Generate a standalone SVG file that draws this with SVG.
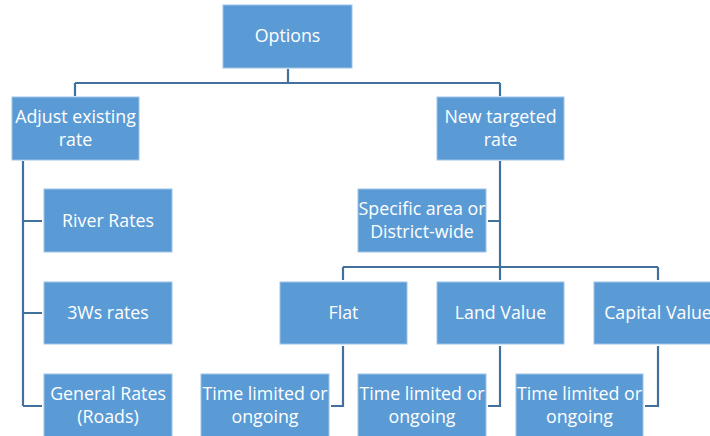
<svg xmlns="http://www.w3.org/2000/svg" width="710" height="436" viewBox="0 0 710 436">
<style>
.box{fill:#5B9BD5;stroke:#9DC3E6;stroke-width:1}
.t{font-family:"Open Sans","Liberation Sans",sans-serif;font-size:17.8px;fill:#fff;text-anchor:middle}
.c{fill:none;stroke:#41719C;stroke-width:2.2}
</style>
<rect width="710" height="436" fill="#fff"/>
<g id="connectors">
<path class="c" d="M288,69 V83 M75,83 H500 M75,83 V96 M500,83 V96"/>
<path class="c" d="M23,161 V406 M23,221 H42 M23,313 H42 M23,406 H42"/>
<path class="c" d="M500,161 V280 M500,221 H488 M343,267 H658 M343,267 V280 M658,267 V280"/>
<path class="c" d="M343,346 V406 H331 M500,346 V406 H488 M658,346 V406 H645"/>
</g>
<g id="options"><rect class="box" x="223" y="5" width="129" height="63"/><text class="t" x="287.5" y="42">Options</text></g>
<g id="adjust"><rect class="box" x="12" y="97" width="127" height="63"/><text class="t" x="75.5" y="123">Adjust existing</text><text class="t" x="75.5" y="146">rate</text></g>
<g id="new"><rect class="box" x="437" y="97" width="127" height="63"/><text class="t" x="500.5" y="123">New targeted</text><text class="t" x="500.5" y="146">rate</text></g>
<g id="river"><rect class="box" x="44" y="189" width="128" height="63"/><text class="t" x="108" y="227">River Rates</text></g>
<g id="threews"><rect class="box" x="44" y="282" width="128" height="62"/><text class="t" x="108" y="319">3Ws rates</text></g>
<g id="general"><rect class="box" x="44" y="374" width="128" height="63"/><text class="t" x="108" y="400">General Rates</text><text class="t" x="108" y="423">(Roads)</text></g>
<g id="specific"><rect class="box" x="358" y="189" width="128" height="63"/><text class="t" x="422" y="215">Specific area or</text><text class="t" x="422" y="238">District-wide</text></g>
<g id="flat"><rect class="box" x="280" y="282" width="127" height="62"/><text class="t" x="343.5" y="319">Flat</text></g>
<g id="land"><rect class="box" x="437" y="282" width="127" height="62"/><text class="t" x="500.5" y="319">Land Value</text></g>
<g id="capital"><rect class="box" x="594" y="282" width="128" height="62"/><text class="t" x="658" y="319">Capital Value</text></g>
<g id="time1"><rect class="box" x="201" y="374" width="128" height="63"/><text class="t" x="265" y="400">Time limited or</text><text class="t" x="265" y="423">ongoing</text></g>
<g id="time2"><rect class="box" x="358" y="374" width="128" height="63"/><text class="t" x="422" y="400">Time limited or</text><text class="t" x="422" y="423">ongoing</text></g>
<g id="time3"><rect class="box" x="516" y="374" width="127" height="63"/><text class="t" x="579.5" y="400">Time limited or</text><text class="t" x="579.5" y="423">ongoing</text></g>
</svg>
